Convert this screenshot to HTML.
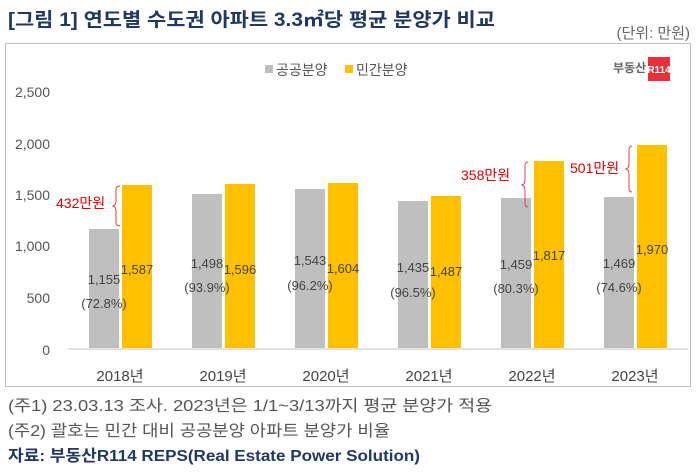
<!DOCTYPE html>
<html><head><meta charset="utf-8"><style>
body{margin:0;width:697px;height:469px;background:#fff;overflow:hidden;font-family:"Liberation Sans","Noto Sans CJK KR",sans-serif;}
svg text{font-family:"Liberation Sans","Noto Sans CJK KR",sans-serif;}
</style></head><body>
<svg width="697" height="469" xmlns="http://www.w3.org/2000/svg">
<text x="8" y="26" font-size="19" font-weight="bold" fill="#1f3864" textLength="487" lengthAdjust="spacingAndGlyphs">[그림 1] 연도별 수도권 아파트 3.3㎡당 평균 분양가 비교</text>
<text x="690" y="38" font-size="15" fill="#666" text-anchor="end">(단위: 만원)</text>
<rect x="5.5" y="43.5" width="685" height="343" fill="#fff" stroke="#bfbfbf"/>
<rect x="265" y="65" width="8" height="8" fill="#bfbfbf"/><text x="276" y="75" font-size="14" fill="#555">공공분양</text>
<rect x="345" y="65" width="8" height="8" fill="#ffc000"/><text x="356" y="75" font-size="14" fill="#555">민간분양</text>
<text x="613" y="72" font-size="12" font-weight="bold" fill="#666">부동산</text>
<rect x="648" y="57" width="22" height="24" fill="#e8303a"/><text x="659" y="73" font-size="10" font-weight="bold" fill="#fff" text-anchor="middle">R114</text>
<g font-size="14" fill="#555" text-anchor="end">
<text x="50" y="97">2,500</text><text x="50" y="149">2,000</text><text x="50" y="200">1,500</text><text x="50" y="251">1,000</text><text x="50" y="303">500</text><text x="50" y="355">0</text></g>
<line x1="68" y1="349" x2="688" y2="349" stroke="#d9d9d9" stroke-width="1.5"/>
<g>
<rect x="89" y="229" width="30" height="119" fill="#bfbfbf"/><rect x="122" y="185" width="30" height="163" fill="#ffc000"/>
<rect x="192" y="194" width="30" height="154" fill="#bfbfbf"/><rect x="225" y="184" width="30" height="164" fill="#ffc000"/>
<rect x="295" y="189" width="30" height="159" fill="#bfbfbf"/><rect x="328" y="183" width="30" height="165" fill="#ffc000"/>
<rect x="398" y="201" width="30" height="147" fill="#bfbfbf"/><rect x="431" y="196" width="30" height="152" fill="#ffc000"/>
<rect x="501" y="198" width="30" height="150" fill="#bfbfbf"/><rect x="534" y="161" width="30" height="187" fill="#ffc000"/>
<rect x="604" y="197" width="30" height="151" fill="#bfbfbf"/><rect x="637" y="145" width="30" height="203" fill="#ffc000"/>
</g>
<g font-size="13" fill="#444" text-anchor="middle">
<text x="104" y="284">1,155</text><text x="104" y="308">(72.8%)</text><text x="137" y="274">1,587</text>
<text x="207" y="268">1,498</text><text x="207" y="292">(93.9%)</text><text x="240" y="274">1,596</text>
<text x="310" y="265">1,543</text><text x="310" y="290">(96.2%)</text><text x="343" y="273">1,604</text>
<text x="413" y="272">1,435</text><text x="413" y="297">(96.5%)</text><text x="446" y="276">1,487</text>
<text x="516" y="269">1,459</text><text x="516" y="293">(80.3%)</text><text x="549" y="260">1,817</text>
<text x="619" y="268">1,469</text><text x="619" y="292">(74.6%)</text><text x="652" y="254">1,970</text>
</g>
<g font-size="15" fill="#444" text-anchor="middle">
<text x="120" y="381">2018년</text><text x="223" y="381">2019년</text><text x="326" y="381">2020년</text><text x="429" y="381">2021년</text><text x="532" y="381">2022년</text><text x="635" y="381">2023년</text></g>
<g fill="none" stroke="#e84040" stroke-width="1">
<path d="M120 186 Q116 186 116 190 L116 201 Q116 205 113 206 Q116 207 116 211 L116 222 Q116 226 120 226"/>
<path d="M528 162 Q525 162 525 166 L525 180 Q525 184 522 185 Q525 186 525 190 L525 203 Q525 207 528 207"/>
<path d="M632 146 Q629 146 629 150 L629 164 Q629 168 626 169 Q629 170 629 174 L629 188 Q629 192 632 192"/>
</g>
<g font-size="14" fill="#e00000">
<text x="56" y="208">432만원</text><text x="461" y="180">358만원</text><text x="570" y="173">501만원</text></g>
<text x="8" y="411" font-size="16" fill="#555" textLength="484" lengthAdjust="spacingAndGlyphs">(주1) 23.03.13 조사. 2023년은 1/1~3/13까지 평균 분양가 적용</text>
<text x="8" y="436" font-size="16" fill="#555" textLength="382" lengthAdjust="spacingAndGlyphs">(주2) 괄호는 민간 대비 공공분양 아파트 분양가 비율</text>
<text x="8" y="461" font-size="16" font-weight="bold" fill="#1f3864" textLength="412" lengthAdjust="spacingAndGlyphs">자료: 부동산R114 REPS(Real Estate Power Solution)</text>
</svg>
</body></html>
